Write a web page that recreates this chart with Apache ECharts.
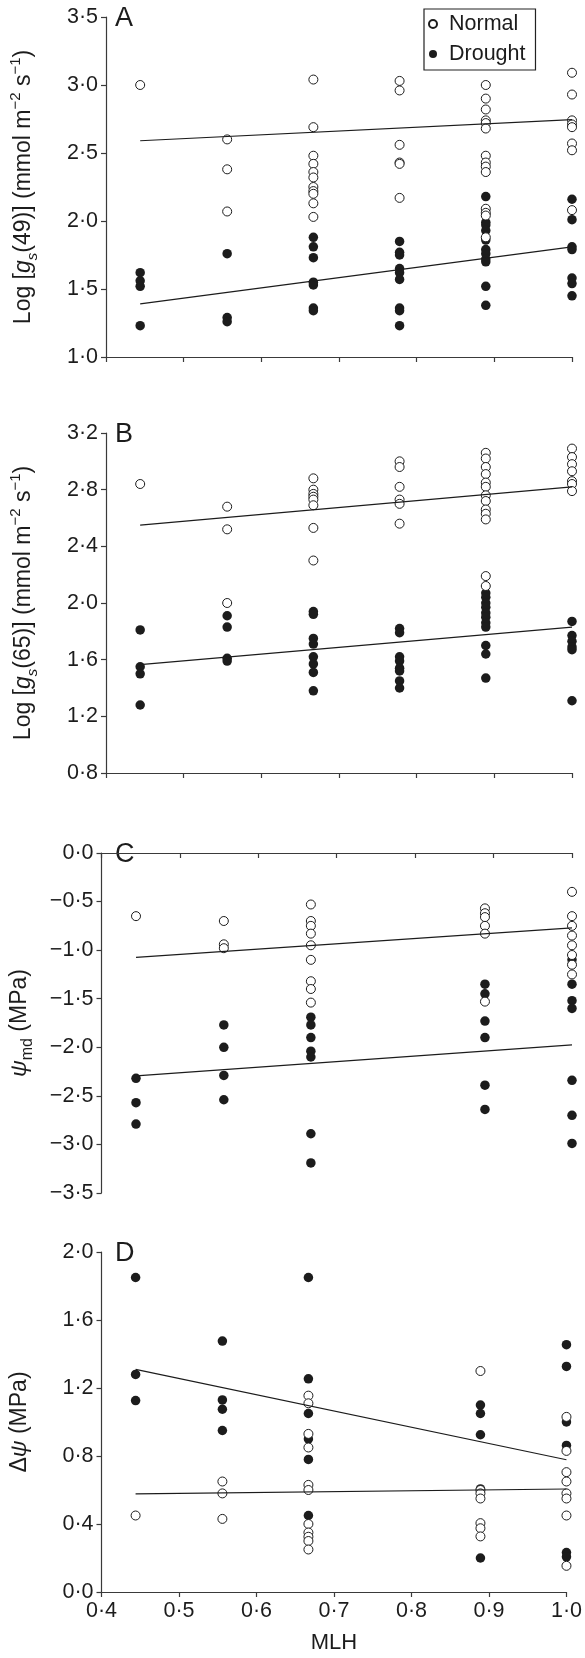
<!DOCTYPE html>
<html>
<head>
<meta charset="utf-8">
<script src="https://cdn.jsdelivr.net/npm/echarts@6/dist/echarts.min.js"></script>
<style>
html,body{margin:0;padding:0;background:#fff;}
#chart{width:585px;height:1658px;}
</style>
</head>
<body>
<div id="chart"></div>
<script>
// ---------- DATA ----------
const mlhABCols = [0.444, 0.556, 0.667, 0.778, 0.889, 1.0];
const mlhCDCols = [0.444, 0.556, 0.667, 0.889, 1.0];
const xTicks = [0.4, 0.5, 0.6, 0.7, 0.8, 0.9, 1.0];

const yTicksA = [1.0, 1.5, 2.0, 2.5, 3.0, 3.5];
const yTicksB = [0.8, 1.2, 1.6, 2.0, 2.4, 2.8, 3.2];
const yTicksC = [-3.5, -3.0, -2.5, -2.0, -1.5, -1.0, -0.5, 0.0];
const yTicksD = [0.0, 0.4, 0.8, 1.2, 1.6, 2.0];

const aNormal = [[3.00], [2.60, 2.38, 2.07], [3.04, 2.69, 2.48, 2.42, 2.36, 2.32, 2.25, 2.22, 2.20, 2.13, 2.03], [3.03, 2.96, 2.56, 2.43, 2.42, 2.17], [3.00, 2.90, 2.82, 2.74, 2.72, 2.68, 2.48, 2.43, 2.40, 2.36, 2.09, 2.06, 2.04, 1.88], [3.09, 2.93, 2.74, 2.71, 2.69, 2.57, 2.52, 2.08]];
const aDrought = [[1.62, 1.56, 1.52, 1.23], [1.76, 1.29, 1.26], [1.88, 1.81, 1.73, 1.55, 1.53, 1.36, 1.34], [1.85, 1.77, 1.75, 1.65, 1.62, 1.57, 1.36, 1.34, 1.23], [2.18, 1.99, 1.97, 1.93, 1.86, 1.79, 1.76, 1.72, 1.70, 1.52, 1.38], [2.16, 2.01, 1.81, 1.79, 1.58, 1.54, 1.45]];
const aFitNormal = [2.59, 2.745];
const aFitDrought = [1.39, 1.81];

const bNormal = [[2.84], [2.68, 2.52, 2.00], [2.88, 2.80, 2.77, 2.75, 2.73, 2.69, 2.53, 2.30], [3.00, 2.96, 2.82, 2.73, 2.70, 2.56], [3.06, 3.02, 2.96, 2.91, 2.85, 2.82, 2.76, 2.72, 2.66, 2.63, 2.59, 2.19, 2.12], [3.09, 3.03, 2.98, 2.93, 2.86, 2.84, 2.79]];
const bDrought = [[1.81, 1.55, 1.50, 1.28], [1.91, 1.83, 1.61, 1.59], [1.94, 1.92, 1.75, 1.71, 1.62, 1.57, 1.51, 1.38], [1.82, 1.79, 1.62, 1.59, 1.54, 1.52, 1.45, 1.40], [2.07, 2.04, 2.00, 1.97, 1.93, 1.90, 1.86, 1.83, 1.70, 1.64, 1.47], [1.87, 1.77, 1.73, 1.69, 1.67, 1.31]];
const bFitNormal = [2.55, 2.82];
const bFitDrought = [1.565, 1.83];

const cNormal = [[-0.65], [-0.70, -0.94, -0.98], [-0.53, -0.70, -0.75, -0.83, -0.95, -1.10, -1.32, -1.40, -1.54], [-0.57, -0.62, -0.66, -0.75, -0.83, -1.53], [-0.40, -0.65, -0.75, -0.85, -0.95, -1.05, -1.15, -1.25]];
const cDrought = [[-2.32, -2.57, -2.79], [-1.77, -2.00, -2.29, -2.54], [-1.69, -1.77, -1.90, -2.04, -2.10, -2.89, -3.19], [-1.35, -1.45, -1.73, -1.90, -2.39, -2.64], [-1.10, -1.35, -1.52, -1.60, -2.34, -2.70, -2.99]];
const cFitNormal = [-1.075, -0.77];
const cFitDrought = [-2.295, -1.975];

const dNormal = [[0.45], [0.65, 0.58, 0.43], [1.155, 1.11, 0.93, 0.85, 0.63, 0.60, 0.40, 0.35, 0.325, 0.30, 0.25], [1.30, 0.60, 0.58, 0.55, 0.405, 0.375, 0.327], [1.03, 0.83, 0.705, 0.65, 0.58, 0.55, 0.45, 0.154]];
const dDrought = [[1.85, 1.28, 1.126], [1.476, 1.13, 1.075, 0.95], [1.85, 1.254, 1.05, 0.90, 0.78, 0.45], [1.10, 1.05, 0.925, 0.606, 0.20], [1.455, 1.327, 1.00, 0.862, 0.232, 0.207]];
const dFitNormal = [0.577, 0.606];
const dFitDrought = [1.31, 0.778];

const fitX = [0.444, 1.0];
const panelLetters = ['A', 'B', 'C', 'D'];
const seriesNames = ['Normal', 'Drought'];
const xAxisTitle = 'MLH';

// ---------- BUILD ----------
const FONT = '"Liberation Sans", Arial, Helvetica, sans-serif';
const INK = '#1c1c1c';
const AXIS = '#3a3a3a';
const NFS = 23;

function pts(cols, groups) {
  const out = [];
  groups.forEach((g, i) => g.forEach(v => out.push([cols[i], v])));
  return out;
}
function fit(vals) { return fitX.map((x, i) => [x, vals[i]]); }
function fmt(v) {
  const r = Math.round(v * 10) / 10;
  return (r < 0 ? '\u2212' : '') + Math.abs(r).toFixed(1).replace('.', '\u00B7');
}

const panels = [
  { cols: mlhABCols, n: aNormal, d: aDrought, fn: aFitNormal, fd: aFitDrought, ticks: yTicksA,
    name: '{t|Log [}{i|g}{sub|s}{t|(49)] (mmol m}{sup|\u22122}{t| s}{sup|\u22121}{t|)}' },
  { cols: mlhABCols, n: bNormal, d: bDrought, fn: bFitNormal, fd: bFitDrought, ticks: yTicksB,
    name: '{t|Log [}{i|g}{sub|s}{t|(65)] (mmol m}{sup|\u22122}{t| s}{sup|\u22121}{t|)}' },
  { cols: mlhCDCols, n: cNormal, d: cDrought, fn: cFitNormal, fd: cFitDrought, ticks: yTicksC,
    name: '{i|\u03C8}{subr|md}{t| (MPa)}' },
  { cols: mlhCDCols, n: dNormal, d: dDrought, fn: dFitNormal, fd: dFitDrought, ticks: yTicksD,
    name: '{t|\u0394}{i|\u03C8}{t| (MPa)}' }
];
const tops = [17, 433, 853, 1252];
const H = 340;
const LEFT = 101, RIGHT = 13;

const rich = {
  t: { fontSize: NFS, fontFamily: FONT, color: INK, verticalAlign: 'middle', lineHeight: 32 },
  i: { fontSize: NFS, fontFamily: FONT, color: INK, fontStyle: 'italic', verticalAlign: 'middle', lineHeight: 32 },
  sub: { fontSize: 15, fontFamily: FONT, color: INK, fontStyle: 'italic', verticalAlign: 'bottom', lineHeight: 32 },
  subr: { fontSize: 16, fontFamily: FONT, color: INK, verticalAlign: 'bottom', lineHeight: 32 },
  sup: { fontSize: 15, fontFamily: FONT, color: INK, verticalAlign: 'top', lineHeight: 32 }
};

const grid = [], xAxis = [], yAxis = [], series = [], graphic = [];
panels.forEach((p, k) => {
  grid.push({ left: LEFT, right: RIGHT, top: tops[k], height: H });
  xAxis.push({
    type: 'value', gridIndex: k,
    min: xTicks[0], max: xTicks[xTicks.length - 1], interval: 0.1,
    axisLine: { show: true, lineStyle: { color: AXIS, width: 1.2 } },
    axisTick: { show: true, length: 5, lineStyle: { color: AXIS, width: 1.2 } },
    splitLine: { show: false },
    axisLabel: { show: k === 3, formatter: fmt, fontSize: 21.5, fontFamily: FONT, color: INK, margin: 8 },
    name: k === 3 ? xAxisTitle : '',
    nameLocation: 'middle', nameGap: 40,
    nameTextStyle: { fontSize: 22, fontFamily: FONT, color: INK }
  });
  yAxis.push({
    type: 'value', gridIndex: k,
    min: p.ticks[0], max: p.ticks[p.ticks.length - 1],
    interval: Math.round((p.ticks[1] - p.ticks[0]) * 10) / 10,
    axisLine: { show: true, lineStyle: { color: AXIS, width: 1.2 } },
    axisTick: { show: true, length: 5, lineStyle: { color: AXIS, width: 1.2 } },
    splitLine: { show: false },
    axisLabel: { formatter: fmt, fontSize: 21.5, fontFamily: FONT, color: INK, margin: 8 },
    name: p.name,
    nameLocation: 'middle', nameGap: 66, nameRotate: 90,
    nameTextStyle: { rich: rich, fontSize: NFS, fontFamily: FONT, color: INK }
  });
  series.push({
    name: seriesNames[1], type: 'scatter', xAxisIndex: k, yAxisIndex: k,
    data: pts(p.cols, p.d), symbol: 'circle', symbolSize: 9.5,
    itemStyle: { color: INK, opacity: 1 }, z: 2
  });
  series.push({
    name: seriesNames[0], type: 'scatter', xAxisIndex: k, yAxisIndex: k,
    data: pts(p.cols, p.n), symbol: 'circle', symbolSize: 9,
    itemStyle: { color: '#fff', borderColor: INK, borderWidth: 1, opacity: 1 }, z: 3
  });
  [p.fn, p.fd].forEach(f => series.push({
    type: 'line', xAxisIndex: k, yAxisIndex: k, data: fit(f),
    symbol: 'none', showSymbol: false,
    lineStyle: { color: INK, width: 1.2 }, z: 4
  }));
  graphic.push({
    type: 'text', left: 115, top: tops[k] - 12,
    style: { text: panelLetters[k], font: '27px ' + FONT, fill: INK }
  });
});

const chart = echarts.init(document.getElementById('chart'), null, { renderer: 'canvas' });
chart.setOption({
  animation: false,
  backgroundColor: '#fff',
  grid, xAxis, yAxis, series, graphic,
  legend: {
    data: seriesNames,
    orient: 'vertical', left: 424, top: 9,
    borderColor: '#222', borderWidth: 1.2,
    padding: [4, 10, 5, 4],
    itemWidth: 22, itemHeight: 8, itemGap: 8,
    textStyle: { fontSize: 21.5, fontFamily: FONT, color: INK, lineHeight: 22 }
  }
});
</script>
</body>
</html>
